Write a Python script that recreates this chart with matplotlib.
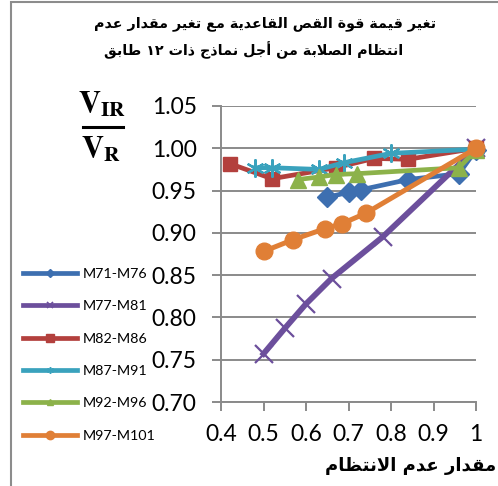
import matplotlib
matplotlib.use("Agg")
import matplotlib.pyplot as plt
from matplotlib.lines import Line2D
from matplotlib.patches import Rectangle

# ---------------- data ----------------
series_names = ["M71-M76", "M77-M81", "M82-M86", "M87-M91", "M92-M96", "M97-M101"]
x_m71 = [0.65, 0.70, 0.73, 0.84, 0.96, 1.0]
y_m71 = [0.942, 0.948, 0.951, 0.963, 0.970, 0.998]
x_m77 = [0.50, 0.55, 0.60, 0.66, 0.78, 1.0]
y_m77 = [0.757, 0.787, 0.816, 0.846, 0.895, 1.0]
x_m82 = [0.42, 0.52, 0.67, 0.76, 0.84, 1.0]
y_m82 = [0.982, 0.964, 0.977, 0.988, 0.987, 1.0]
x_m87 = [0.48, 0.52, 0.63, 0.69, 0.80, 1.0]
y_m87 = [0.977, 0.977, 0.975, 0.983, 0.994, 0.999]
x_m92 = [0.58, 0.63, 0.67, 0.72, 0.96, 1.0]
y_m92 = [0.963, 0.966, 0.969, 0.970, 0.977, 0.998]
x_m97 = [0.50, 0.57, 0.645, 0.685, 0.74, 1.0]
y_m97 = [0.878, 0.892, 0.905, 0.911, 0.923, 1.0]

x_ticks = [0.4, 0.5, 0.6, 0.7, 0.8, 0.9, 1.0]
x_tick_labels = ["0.4", "0.5", "0.6", "0.7", "0.8", "0.9", "1"]
y_ticks = [0.70, 0.75, 0.80, 0.85, 0.90, 0.95, 1.00, 1.05]

title_line1 = "تغير قيمة قوة القص القاعدية مع تغير مقدار عدم"
title_line2 = "انتظام الصلابة من أجل نماذج ذات ١٢ طابق"
x_label = "مقدار عدم الانتظام"

# ---------------- minimal Arabic shaping ----------------
FORMS = {  # isolated, final, initial, medial
    'ا': (0xFE8D, 0xFE8E, None, None), 'أ': (0xFE83, 0xFE84, None, None),
    'ب': (0xFE8F, 0xFE90, 0xFE91, 0xFE92), 'ة': (0xFE93, 0xFE94, None, None),
    'ت': (0xFE95, 0xFE96, 0xFE97, 0xFE98), 'ج': (0xFE9D, 0xFE9E, 0xFE9F, 0xFEA0),
    'د': (0xFEA9, 0xFEAA, None, None), 'ذ': (0xFEAB, 0xFEAC, None, None),
    'ر': (0xFEAD, 0xFEAE, None, None), 'ص': (0xFEB9, 0xFEBA, 0xFEBB, 0xFEBC),
    'ط': (0xFEC1, 0xFEC2, 0xFEC3, 0xFEC4), 'ظ': (0xFEC5, 0xFEC6, 0xFEC7, 0xFEC8),
    'ع': (0xFEC9, 0xFECA, 0xFECB, 0xFECC), 'غ': (0xFECD, 0xFECE, 0xFECF, 0xFED0),
    'ق': (0xFED5, 0xFED6, 0xFED7, 0xFED8), 'ل': (0xFEDD, 0xFEDE, 0xFEDF, 0xFEE0),
    'م': (0xFEE1, 0xFEE2, 0xFEE3, 0xFEE4), 'ن': (0xFEE5, 0xFEE6, 0xFEE7, 0xFEE8),
    'ه': (0xFEE9, 0xFEEA, 0xFEEB, 0xFEEC), 'و': (0xFEED, 0xFEEE, None, None),
    'ي': (0xFEF1, 0xFEF2, 0xFEF3, 0xFEF4),
}
LAM_ALEF = {'ا': (0xFEFB, 0xFEFC), 'أ': (0xFEF7, 0xFEF8)}


def jtype(c):
    if c in FORMS:
        return 'D' if FORMS[c][2] is not None else 'R'
    return 'U'


def shape(text):
    units = []
    i = 0
    while i < len(text):
        c = text[i]
        if c == 'ل' and i + 1 < len(text) and text[i + 1] in LAM_ALEF:
            units.append(('LA' + text[i + 1], 'R'))
            i += 2
        else:
            units.append((c, jtype(c)))
            i += 1
    out = []
    for k, (u, t) in enumerate(units):
        prev_t = units[k - 1][1] if k > 0 else 'U'
        next_t = units[k + 1][1] if k + 1 < len(units) else 'U'
        jp = prev_t == 'D' and t in ('D', 'R')
        jn = t == 'D' and next_t in ('D', 'R')
        if u.startswith('LA'):
            iso, fin = LAM_ALEF[u[2]]
            out.append(chr(fin if jp else iso))
            continue
        if t == 'U':
            out.append(u)
            continue
        iso, fin, ini, med = FORMS[u]
        if jp and jn:
            out.append(chr(med))
        elif jp:
            out.append(chr(fin))
        elif jn:
            out.append(chr(ini))
        else:
            out.append(chr(iso))
    vis = out[::-1]
    res, run = [], []
    for ch in vis:
        if ch.isdigit():
            run.append(ch)
        else:
            if run:
                res.extend(run[::-1]); run = []
            res.append(ch)
    if run:
        res.extend(run[::-1])
    return ''.join(res)


# ---------------- figure ----------------
plt.rcParams['font.family'] = ['Lato', 'DejaVu Sans']
plt.rcParams['mathtext.fontset'] = 'stix'

W, H = 498, 486
fig = plt.figure(figsize=(W / 100, H / 100), dpi=100)
fig.patch.set_facecolor('white')

ax = fig.add_axes([221 / W, 1 - 402 / H, (476 - 221) / W, (402 - 106) / H])

grid_c = '#8a8a8a'
ax.set_xlim(0.4, 1.0)
ax.set_ylim(0.70, 1.05)
ax.set_yticks(y_ticks)
ax.set_yticklabels([f"{v:.2f}" for v in y_ticks])
ax.set_xticks(x_ticks)
ax.set_xticklabels(x_tick_labels)
ax.grid(axis='y', color=grid_c, lw=1.4)
ax.set_axisbelow(True)
for s in ['top', 'right']:
    ax.spines[s].set_visible(False)
for s in ['left', 'bottom']:
    ax.spines[s].set_color(grid_c)
    ax.spines[s].set_linewidth(1.4)
ax.tick_params(axis='both', colors=grid_c, width=1.4, length=6.5,
               labelcolor='black', labelsize=16.5)
ax.tick_params(axis='y', pad=11)
ax.tick_params(axis='x', pad=9)

c_blue = '#3d6fb0'
c_purple = '#6c4f9c'
c_red = '#b3403d'
c_cyan = '#3aa2bd'
c_green = '#8cb24a'
c_orange = '#e07f36'

ax.plot(x_m71, y_m71, color=c_blue, lw=3.4, marker='D', ms=10, clip_on=False, zorder=3)
ax.plot(x_m77, y_m77, color=c_purple, lw=4.2, marker='x', ms=13, mew=1.6, clip_on=False, zorder=3)
ax.plot(x_m82, y_m82, color=c_red, lw=3.4, marker='s', ms=10, clip_on=False, zorder=3)
ax.plot(x_m87, y_m87, color=c_cyan, lw=3.4, marker=(6, 2, 0), ms=13, mew=1.6, clip_on=False, zorder=3)
ax.plot(x_m92, y_m92, color=c_green, lw=3.4, marker='^', ms=11, clip_on=False, zorder=3)
ax.plot(x_m97, y_m97, color=c_orange, lw=3.6, marker='o', ms=12, clip_on=False, zorder=3)

# legend
handles = [
    Line2D([], [], color=c_blue, lw=3.4, marker='D', ms=4),
    Line2D([], [], color=c_purple, lw=3.4, marker='x', ms=5, mew=1.2),
    Line2D([], [], color=c_red, lw=3.4, marker='s', ms=6),
    Line2D([], [], color=c_cyan, lw=3.4, marker=(6, 2, 0), ms=5, mew=1.0),
    Line2D([], [], color=c_green, lw=3.4, marker='^', ms=5),
    Line2D([], [], color=c_orange, lw=3.4, marker='o', ms=6),
]
fig.legend(handles, series_names, loc='upper left',
           bbox_to_anchor=(23 / W, 1 - 268 / H), frameon=False,
           fontsize=10.3, handlelength=3.8, handletextpad=0.4,
           labelspacing=1.42, borderpad=0, borderaxespad=0)

# title
fig.text(265 / W, 1 - 24 / H, shape(title_line1), ha='center', va='center',
         fontsize=10.3, fontweight='bold', family=['DejaVu Sans'])
fig.text(254 / W, 1 - 50 / H, shape(title_line2), ha='center', va='center',
         fontsize=10.3, fontweight='bold', family=['DejaVu Sans'])

# x label
fig.text(411 / W, 1 - 466 / H, shape(x_label), ha='center', va='center',
         fontsize=13, fontweight='bold', family=['DejaVu Sans'])

# y label as a fraction
fig.text(102 / W, 1 - 104 / H, r'$\mathbf{V}_{\mathbf{IR}}$', ha='center', va='center',
         fontsize=22)
fig.text(101 / W, 1 - 149 / H, r'$\mathbf{V}_{\mathbf{R}}$', ha='center', va='center',
         fontsize=22)
fig.add_artist(Line2D([83 / W, 123 / W], [1 - 127 / H, 1 - 127 / H],
                      color='black', lw=2.2, transform=fig.transFigure))

# outer chart border
fig.add_artist(Rectangle((11 / W, -0.1), 1.0, 1.1 - 2 / H, transform=fig.transFigure,
                         fill=False, edgecolor='#8c8c8c', lw=1.5))

fig.savefig('out.png', dpi=100, facecolor='white')
